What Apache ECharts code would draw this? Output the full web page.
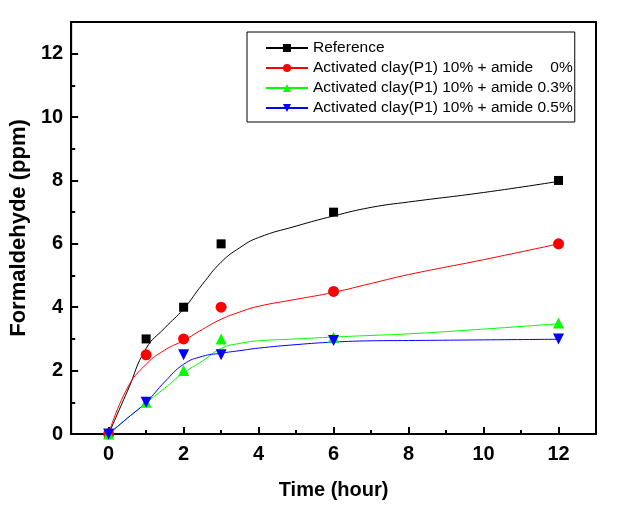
<!DOCTYPE html>
<html>
<head>
<meta charset="utf-8">
<script src="https://cdn.jsdelivr.net/npm/echarts@6/dist/echarts.min.js"></script>
<style>
html,body{margin:0;padding:0;background:#fff;}
#chart{width:627px;height:512px;}
</style>
</head>
<body>
<div id="chart"></div>
<script>
// Measured points
var timeHours = [0, 1, 2, 3, 6, 12];
var refValues = [0, 3, 4, 6, 7, 8];
var amide0Values = [0, 2.5, 3, 4, 4.5, 6];
var amide03Values = [0, 1, 2, 3, 3.05, 3.5];
var amide05Values = [0, 1, 2.5, 2.5, 2.95, 3];

// Fitted curves
var curveX = [0, 0.5, 1, 1.5, 2, 2.5, 3, 3.5, 4, 5, 6, 7, 8, 10, 12];
var refCurve = [0, 1.35, 2.7, 3.35, 3.95, 4.72, 5.42, 5.88, 6.2, 6.56, 6.88, 7.15, 7.32, 7.62, 7.97];
var amide0Curve = [0, 1.45, 2.2, 2.65, 2.95, 3.3, 3.62, 3.85, 4.03, 4.25, 4.47, 4.75, 5.03, 5.5, 6.0];
var amide03Curve = [0, 0.5, 0.98, 1.45, 1.93, 2.3, 2.7, 2.86, 2.94, 3.0, 3.06, 3.11, 3.16, 3.31, 3.48];
var amide05Curve = [0, 0.5, 1.0, 1.65, 2.2, 2.45, 2.55, 2.63, 2.71, 2.82, 2.9, 2.94, 2.95, 2.97, 2.99];

var seriesNames = [
  'Reference',
  'Activated clay(P1) 10% + amide    0%',
  'Activated clay(P1) 10% + amide 0.3%',
  'Activated clay(P1) 10% + amide 0.5%'
];
var xTicks = [0, 2, 4, 6, 8, 10, 12];
var xMinorTicks = [1, 3, 5, 7, 9, 11];
var yTicks = [0, 2, 4, 6, 8, 10, 12];

function pairs(xs, ys) { return xs.map(function (x, i) { return [x, ys[i]]; }); }

var defs = [
  {name: seriesNames[0], pts: refValues, curve: refCurve, color: '#000000', symbol: 'rect', size: 9, rot: 0},
  {name: seriesNames[1], pts: amide0Values, curve: amide0Curve, color: '#ff0000', symbol: 'circle', size: 11, rot: 0},
  {name: seriesNames[2], pts: amide03Values, curve: amide03Curve, color: '#00ff00', symbol: 'triangle', size: 11, rot: 0},
  {name: seriesNames[3], pts: amide05Values, curve: amide05Curve, color: '#0000ff', symbol: 'triangle', size: 11, rot: 180}
];

var series = [];
defs.forEach(function (d) {
  series.push({
    type: 'line', name: d.name, data: pairs(curveX, d.curve),
    smooth: 0.5,
    symbol: d.symbol, symbolSize: d.size, symbolRotate: d.rot, showSymbol: false,
    lineStyle: {color: d.color, width: 1}, itemStyle: {color: d.color},
    silent: true, z: 2, animation: false
  });
});
defs.forEach(function (d) {
  series.push({
    type: 'scatter', name: d.name, data: pairs(timeHours, d.pts),
    symbol: d.symbol, symbolSize: d.size, symbolRotate: d.rot,
    itemStyle: {color: d.color, opacity: 1}, z: 3, animation: false
  });
});

var fontFam = "'Liberation Sans', Arial, sans-serif";
var chart = echarts.init(document.getElementById('chart'), null, {renderer: 'canvas'});
chart.setOption({
  animation: false,
  backgroundColor: '#ffffff',
  grid: {left: 69, right: 31, top: 22, bottom: 78, show: true, borderColor: '#000', borderWidth: 2, backgroundColor: 'transparent'},
  legend: {
    orient: 'vertical', left: 247, top: 32,
    data: seriesNames,
    itemWidth: 42, itemHeight: 10, itemGap: 4,
    padding: [8, 2, 6, 18],
    borderColor: '#000', borderWidth: 1, backgroundColor: '#fff',
    textStyle: {fontFamily: fontFam, fontSize: 15.5, color: '#000', lineHeight: 16},
    selectedMode: false
  },
  xAxis: [{
    type: 'value', min: -1, max: 13,
    name: 'Time (hour)', nameLocation: 'middle', nameGap: 46,
    nameTextStyle: {fontFamily: fontFam, fontSize: 20, fontWeight: 'bold', color: '#000'},
    axisLine: {show: true, onZero: false, lineStyle: {color: '#000', width: 2}},
    axisTick: {show: true, inside: true, length: 7, customValues: xTicks, lineStyle: {color: '#000', width: 2}},
    splitLine: {show: false},
    axisLabel: {
      fontFamily: fontFam, fontSize: 20, fontWeight: 'bold', color: '#000', margin: 10,
      customValues: xTicks
    }
  }, {
    type: 'value', min: -1, max: 13, position: 'bottom',
    axisLine: {show: false},
    axisTick: {show: true, inside: true, length: 4, customValues: xMinorTicks, lineStyle: {color: '#000', width: 2}},
    axisLabel: {show: false, customValues: xMinorTicks},
    splitLine: {show: false}
  }],
  yAxis: {
    type: 'value', min: 0, max: 13, interval: 2,
    name: 'Formaldehyde (ppm)', nameLocation: 'middle', nameGap: 40,
    nameTextStyle: {fontFamily: fontFam, fontSize: 22, fontWeight: 'bold', color: '#000'},
    axisLine: {show: true, onZero: false, lineStyle: {color: '#000', width: 2}},
    axisTick: {show: true, inside: true, length: 7, lineStyle: {color: '#000', width: 2}},
    minorTick: {show: true, splitNumber: 2, length: 4, lineStyle: {color: '#000', width: 2}},
    splitLine: {show: false},
    axisLabel: {
      fontFamily: fontFam, fontSize: 20, fontWeight: 'bold', color: '#000', margin: 8,
      formatter: function (v) { return yTicks.indexOf(v) >= 0 ? String(v) : ''; }
    }
  },
  series: series
});
</script>
</body>
</html>
